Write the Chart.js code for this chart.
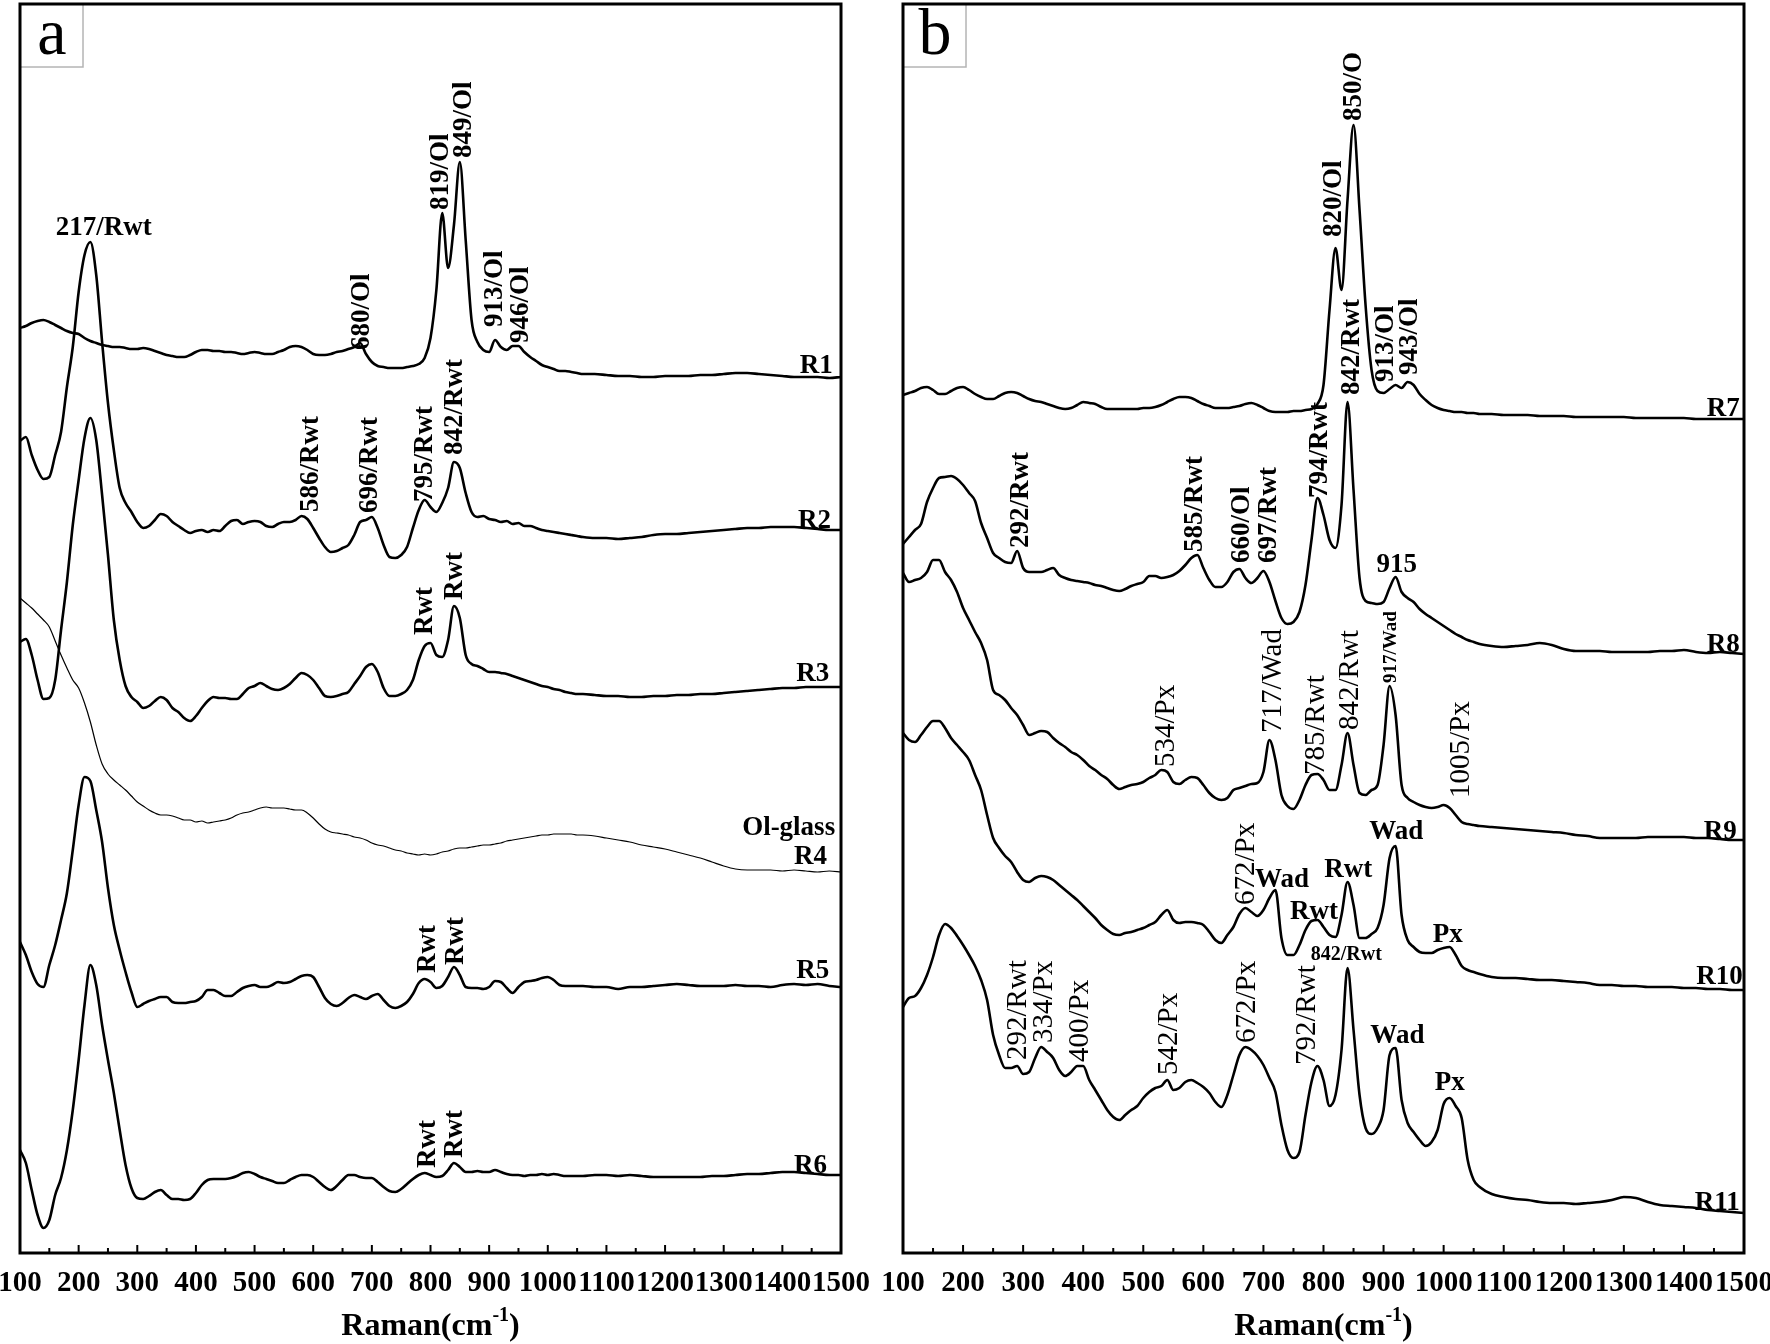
<!DOCTYPE html>
<html>
<head>
<meta charset="utf-8">
<title>Raman spectra</title>
<script src="https://cdn.jsdelivr.net/npm/chart.js@4.4.1/dist/chart.umd.min.js"></script>
<style>
  html, body { margin: 0; padding: 0; background: #fff; overflow: hidden; }
  #wrap { position: relative; width: 1770px; height: 1344px; }
  #panelA { position: absolute; left: 0; top: 0; }
  #panelB { position: absolute; left: 880px; top: 0; }
</style>
</head>
<body>
<div id="wrap">
  <canvas id="panelA" width="880" height="1344"></canvas>
  <canvas id="panelB" width="890" height="1344"></canvas>
</div>
<script>
// Raman shift grid (cm-1)
const ramanShift = [
  100,110,120,130,140,150,160,170,180,190,
  200,210,220,230,240,250,260,270,280,290,
  300,310,320,330,340,350,360,370,380,390,
  400,410,420,430,440,450,460,470,480,490,
  500,510,520,530,540,550,560,570,580,590,
  600,610,620,630,640,650,660,670,680,690,
  700,710,720,730,740,750,760,770,780,790,
  800,810,820,830,840,850,860,870,880,890,
  900,910,920,930,940,950,960,970,980,990,
  1000,1010,1020,1030,1040,1050,1060,
  1080,1100,1120,1140,1160,1180,1200,1220,1240,1260,1280,1300,1320,1340,1360,1380,1400,1420,1440,1460,1480,1500
];

// Panel a spectra (stacked intensity, a.u.)
const r1 = [
  972,974,977,979,980,978,975,972,969,967,
  966,962,959,957,955,954,953,953,952,951,
  951,952,951,949,947,945,944,943,943,945,
  948,950,950,949,949,948,948,947,946,947,
  948,947,946,946,948,950,953,954,953,950,
  946,945,945,946,948,949,951,953,957,946,
  938,934,933,932,932,932,933,934,936,942,
  962,1010,1087,1032,1075,1138,1060,980,958,950,
  948,960,953,950,954,954,948,943,939,935,
  933,931,929,929,928,927,926,
  926,925,924,924,923,923,924,924,924,925,925,926,927,927,926,925,924,923,923,923,922,923
];
const r2 = [
  859,863,845,830,821,823,845,868,913,953,
  1008,1045,1058,1025,958,897,850,812,797,788,
  778,772,774,780,786,784,778,774,770,767,
  769,770,768,770,769,774,779,780,776,778,
  779,778,774,773,776,778,778,780,784,781,
  772,762,753,748,749,752,755,765,778,780,
  783,772,755,743,742,745,753,772,790,800,
  793,788,797,812,838,832,807,788,783,784,
  781,780,778,779,776,777,774,774,772,770,
  769,768,767,766,765,764,763,
  762,762,761,762,763,765,766,766,767,768,769,770,771,772,772,773,773,773,772,771,770,770
];
const r3 = [
  658,661,645,620,601,602,620,670,718,775,
  820,862,882,860,805,745,680,640,614,603,
  598,592,594,599,603,600,592,588,582,579,
  584,592,599,603,602,602,601,601,606,612,
  614,617,614,611,610,612,616,622,627,625,
  620,612,604,603,604,606,608,616,624,633,
  636,628,612,604,604,606,610,620,640,654,
  657,645,643,660,694,682,645,636,634,631,
  628,628,627,626,624,622,620,618,616,614,
  613,611,610,608,607,606,606,
  605,604,604,603,603,604,604,605,605,606,606,607,608,609,610,611,612,612,613,613,613,613
];
const r4 = [
  702,697,692,686,680,673,659,645,632,620,
  612,597,578,555,536,526,520,515,510,504,
  498,494,490,487,485,485,484,482,480,480,
  478,479,477,478,479,480,482,485,487,488,
  490,492,493,492,492,492,491,490,490,487,
  482,476,471,468,467,466,465,463,462,460,
  457,455,454,452,450,449,447,446,445,446,
  445,446,448,449,451,452,452,453,454,455,
  455,456,457,459,460,461,462,463,464,465,
  465,466,466,466,466,465,465,
  464,462,460,458,455,453,451,448,445,442,438,434,431,430,430,430,429,430,429,428,429,428
];
const r5 = [
  358,345,328,316,313,335,355,380,407,450,
  495,523,519,490,458,412,375,350,328,308,
  293,296,299,301,303,303,298,297,297,298,
  299,303,310,310,307,304,304,308,312,314,
  315,313,313,315,318,317,318,321,324,325,
  323,313,302,296,294,297,302,305,303,301,
  304,306,300,294,292,294,298,306,317,321,
  318,312,314,323,333,325,313,312,312,311,
  313,319,318,312,307,313,318,319,320,322,
  323,320,315,314,314,314,314,
  313,313,311,313,313,314,315,316,315,314,314,314,315,314,314,313,315,316,315,316,314,313
];
const r6 = [
  150,137,110,85,72,80,105,122,150,190,
  240,295,335,315,275,240,207,170,135,112,
  102,101,104,108,110,105,101,101,100,101,
  107,115,120,121,121,121,122,124,127,128,
  126,123,121,119,117,117,120,123,125,125,
  123,118,113,110,114,120,125,125,123,122,
  122,118,113,109,108,111,116,121,125,127,
  125,123,124,130,137,133,128,128,129,128,
  128,130,128,126,125,125,124,125,125,126,
  125,126,125,124,124,124,124,
  125,125,124,125,124,123,123,123,123,123,124,124,125,126,126,127,128,128,127,126,125,125
];

// Panel b spectra
const r7 = [
  905,907,909,912,913,910,906,906,909,912,
  913,910,906,903,901,901,904,907,908,907,
  904,901,899,898,896,894,892,891,892,895,
  898,897,896,893,891,891,891,891,891,891,
  892,892,893,895,898,901,903,903,902,899,
  896,894,892,892,892,893,894,896,897,895,
  892,889,888,888,888,889,889,890,891,896,
  915,990,1052,1010,1100,1175,1090,995,930,909,
  907,911,915,912,918,915,906,900,895,892,
  890,889,888,888,887,887,886,
  886,885,885,885,884,884,884,883,883,883,883,883,882,882,882,882,882,881,881,881,881,881
];
const r8 = [
  756,763,770,776,798,812,822,823,824,821,
  815,807,799,777,762,747,742,738,737,749,
  732,728,728,728,730,732,725,722,720,719,
  718,717,715,714,712,710,709,711,714,716,
  718,724,724,722,723,725,729,735,742,745,
  732,720,713,713,718,728,731,722,717,722,
  729,718,699,682,676,678,688,715,760,802,
  785,760,752,795,898,810,722,699,697,696,
  698,712,723,708,702,698,691,686,682,678,
  674,670,666,663,660,658,656,
  654,653,654,655,657,655,651,649,649,649,648,648,648,648,649,649,650,648,647,648,647,646
];
const r9 = [
  727,718,720,722,728,740,740,728,720,708,
  692,680,668,657,640,610,605,600,592,585,
  575,565,567,569,568,562,557,553,548,545,
  540,534,530,525,521,515,511,513,515,516,
  518,522,525,530,528,518,516,520,523,522,
  515,507,502,500,502,510,512,514,516,517,
  528,560,540,505,494,491,500,515,525,526,
  520,510,510,535,567,535,507,505,510,515,
  555,614,585,515,502,498,495,493,492,493,
  495,492,485,478,476,475,474,
  473,472,471,470,469,468,467,465,464,462,462,462,462,463,463,463,463,462,462,461,460,460
];
const r10 = [
  567,560,558,565,573,579,579,572,562,555,
  548,540,525,510,485,462,452,444,438,428,
  420,418,422,424,423,420,415,410,405,400,
  394,388,382,375,370,366,365,367,368,370,
  372,375,378,385,390,380,377,378,378,377,
  375,368,360,357,365,373,386,392,388,384,
  390,402,410,362,345,345,355,370,379,380,
  373,365,363,385,418,395,362,362,366,372,
  395,442,454,385,360,353,348,347,347,350,
  352,353,345,334,330,328,326,
  323,322,322,321,320,320,319,318,317,315,315,314,314,313,313,313,312,312,311,311,310,310
];
const r11 = [
  293,302,304,312,325,343,365,376,372,364,
  355,345,334,320,300,265,245,232,232,234,
  226,228,242,253,248,242,230,224,228,234,
  234,220,210,200,190,183,180,185,190,194,
  202,208,212,214,220,210,212,218,220,217,
  213,207,198,193,205,225,245,253,250,244,
  235,222,208,175,150,142,148,185,218,234,
  220,194,205,250,332,270,205,172,166,172,
  190,245,252,200,177,168,160,154,158,170,
  196,202,194,182,140,120,113,
  106,103,101,100,98,97,97,96,97,98,100,103,102,98,95,94,93,92,90,89,88,87
];

// Peak labels: [text, raman shift, intensity level, kind]
const labelsA = [
  ["217/Rwt", 243, 1072, "h"],
  ["680/Ol", 683, 950, "v"],
  ["819/Ol", 818, 1090, "v"],
  ["849/Ol", 858, 1142, "v"],
  ["913/Ol", 910, 973, "v"],
  ["946/Ol", 955, 957, "v"],
  ["586/Rwt", 596, 788, "v"],
  ["696/Rwt", 697, 787, "v"],
  ["795/Rwt", 791, 798, "v"],
  ["842/Rwt", 842, 845, "v"],
  ["Rwt", 791, 665, "v"],
  ["Rwt", 842, 700, "v"],
  ["Rwt", 796, 327, "v"],
  ["Rwt", 843, 335, "v"],
  ["Rwt", 796, 132, "v"],
  ["Rwt", 842, 142, "v"],
  ["Ol-glass", 1490, 472, "r"],
  ["R1", 1486, 934, "r"],
  ["R2", 1483, 779, "r"],
  ["R3", 1480, 626, "r"],
  ["R4", 1476, 443, "r"],
  ["R5", 1480, 329, "r"],
  ["R6", 1476, 134, "r"]
];
const labelsB = [
  ["850/O", 851, 1179, "v"],
  ["820/Ol", 818, 1063, "v"],
  ["842/Rwt", 847, 905, "v"],
  ["913/Ol", 904, 918, "v"],
  ["943/Ol", 944, 925, "v"],
  ["292/Rwt", 296, 752, "v"],
  ["585/Rwt", 586, 748, "v"],
  ["660/Ol", 664, 737, "v"],
  ["697/Rwt", 709, 737, "v"],
  ["794/Rwt", 794, 802, "v"],
  ["915", 922, 735, "h"],
  ["917/Wad", 913, 617, "vs"],
  ["534/Px", 539, 533, "vn"],
  ["717/Wad", 716, 567, "vn"],
  ["785/Rwt", 788, 525, "vn"],
  ["842/Rwt", 844, 570, "vn"],
  ["1005/Px", 1030, 502, "vn"],
  ["Wad", 921, 468, "h"],
  ["672/Px", 671, 395, "vn"],
  ["Wad", 731, 420, "h"],
  ["Rwt", 841, 430, "h"],
  ["Rwt", 784, 388, "h"],
  ["Px", 1007, 365, "h"],
  ["842/Rwt", 838, 345, "hs"],
  ["292/Rwt", 292, 240, "vn"],
  ["334/Px", 336, 257, "vn"],
  ["400/Px", 395, 238, "vn"],
  ["542/Px", 543, 225, "vn"],
  ["672/Px", 673, 257, "vn"],
  ["792/Rwt", 773, 235, "vn"],
  ["Wad", 923, 264, "h"],
  ["Px", 1010, 217, "h"],
  ["R7", 1493, 891, "r"],
  ["R8", 1493, 655, "r"],
  ["R9", 1488, 468, "r"],
  ["R10", 1498, 323, "r"],
  ["R11", 1493, 97, "r"]
];

const serif = '"Liberation Serif", "Times New Roman", serif';
const labelStyles = {
  v:  { font: "bold 27px " + serif, rot: true },
  vn: { font: "29px " + serif, rot: true },
  vs: { font: "bold 19px " + serif, rot: true },
  h:  { font: "bold 27px " + serif, align: "center" },
  hs: { font: "bold 20px " + serif, align: "center" },
  r:  { font: "bold 27px " + serif, align: "right" }
};

// Frame, inward ticks, panel letter, peak labels and axis title
const framePlugin = {
  id: "frame",
  afterDraw(chart, args, opts) {
    const { ctx, chartArea: a, scales: { x, y } } = chart;
    ctx.save();
    ctx.fillStyle = "#000";

    opts.labels.forEach(([text, shift, level, kind]) => {
      const st = labelStyles[kind];
      const px = x.getPixelForValue(shift);
      const py = y.getPixelForValue(level);
      ctx.font = st.font;
      ctx.textBaseline = "middle";
      if (st.rot) {
        ctx.save();
        ctx.translate(px, py);
        ctx.rotate(-Math.PI / 2);
        ctx.textAlign = "left";
        ctx.fillText(text, 0, 0);
        ctx.restore();
      } else {
        ctx.textAlign = st.align;
        ctx.fillText(text, px, py);
      }
    });

    // inward tick marks
    ctx.strokeStyle = "#000";
    ctx.lineWidth = 2;
    for (let v = x.min; v <= x.max; v += 50) {
      const px = x.getPixelForValue(v);
      const len = v % 100 === 0 ? 8 : 5;
      ctx.beginPath();
      ctx.moveTo(px, a.bottom);
      ctx.lineTo(px, a.bottom - len);
      ctx.stroke();
    }

    // panel letter box
    ctx.strokeStyle = "#b4b4b4";
    ctx.lineWidth = 1.5;
    ctx.strokeRect(a.left, a.top, 63, 63);
    ctx.font = "66px " + serif;
    ctx.textAlign = "center";
    ctx.textBaseline = "alphabetic";
    ctx.fillText(opts.letter, a.left + 32, a.top + 50);

    // outer frame
    ctx.strokeStyle = "#000";
    ctx.lineWidth = 3;
    ctx.strokeRect(a.left, a.top, a.right - a.left, a.bottom - a.top);

    // axis title with superscript
    const base = chart.height - 9;
    ctx.textAlign = "left";
    ctx.font = "bold 32px " + serif;
    const w1 = ctx.measureText("Raman(cm").width;
    const w3 = ctx.measureText(")").width;
    ctx.font = "bold 20px " + serif;
    const w2 = ctx.measureText("-1").width;
    let tx = (a.left + a.right) / 2 - (w1 + w2 + w3) / 2;
    ctx.font = "bold 32px " + serif;
    ctx.fillText("Raman(cm", tx, base);
    ctx.font = "bold 20px " + serif;
    ctx.fillText("-1", tx + w1, base - 14);
    ctx.font = "bold 32px " + serif;
    ctx.fillText(")", tx + w1 + w2, base);
    ctx.restore();
  }
};

function makeSeries(values, width) {
  return {
    data: ramanShift.map((s, i) => ({ x: s, y: values[i] })),
    borderColor: "#000",
    borderWidth: width,
    pointRadius: 0,
    fill: false,
    cubicInterpolationMode: "monotone"
  };
}

function makeChart(id, series, labels, letter, padLeft, padRight) {
  return new Chart(document.getElementById(id), {
    type: "line",
    data: { datasets: series },
    options: {
      responsive: false,
      animation: false,
      devicePixelRatio: 1,
      layout: { padding: { left: padLeft, right: padRight, top: 4, bottom: 43 } },
      plugins: {
        legend: { display: false },
        tooltip: { enabled: false },
        frame: { labels: labels, letter: letter }
      },
      scales: {
        x: {
          type: "linear",
          min: 100,
          max: 1500,
          grid: { display: false, drawTicks: false },
          border: { display: false },
          ticks: {
            stepSize: 100,
            autoSkip: false,
            maxRotation: 0,
            minRotation: 0,
            padding: 13,
            color: "#000",
            font: { family: "Liberation Serif", size: 29, weight: "bold" },
            callback: (v) => String(v)
          },
          afterFit(scale) {
            scale.height = 48;
            scale.paddingLeft = 0;
            scale.paddingRight = 0;
          }
        },
        y: { display: false, min: 47, max: 1296 }
      }
    },
    plugins: [framePlugin]
  });
}

makeChart("panelA",
  [makeSeries(r1, 2.6), makeSeries(r2, 2.6), makeSeries(r3, 2.6),
   makeSeries(r4, 1.2), makeSeries(r5, 2.6), makeSeries(r6, 2.6)],
  labelsA, "a", 20, 39);

makeChart("panelB",
  [makeSeries(r7, 2.6), makeSeries(r8, 2.6), makeSeries(r9, 2.6),
   makeSeries(r10, 2.6), makeSeries(r11, 2.6)],
  labelsB, "b", 23, 26);
</script>
</body>
</html>
